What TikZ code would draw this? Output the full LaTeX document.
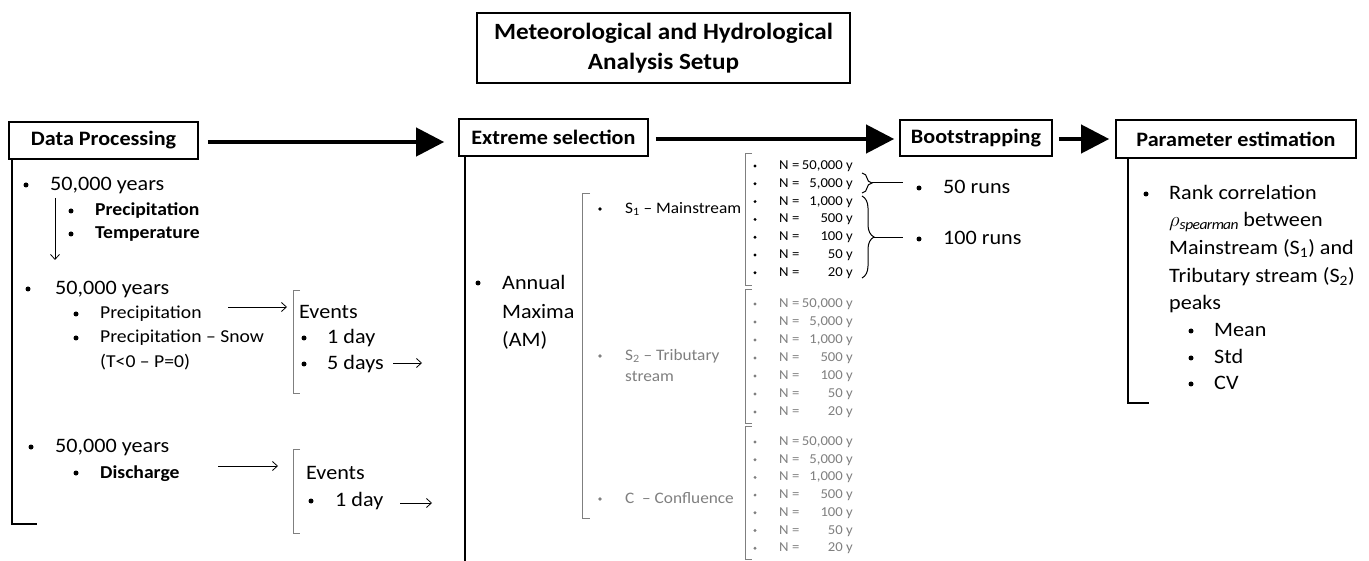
\documentclass[tikz,border=0pt]{standalone}
\usepackage{fontspec}
\setmainfont{Carlito}[FakeStretch=1.08]
\usetikzlibrary{arrows.meta,decorations.pathreplacing,calc}

\definecolor{softgray}{HTML}{7F7F7F}

\tikzset{
  hdr/.style={draw, line width=1.6pt, inner sep=0pt, font=\fontsize{20.5}{24}\selectfont\bfseries},
  big/.style={anchor=base west, inner sep=0pt, yshift=-6.7pt, font=\fontsize{20.5}{24}\selectfont},
  mid/.style={anchor=base west, inner sep=0pt, yshift=-6pt, font=\fontsize{18.2}{22}\selectfont},
  sml/.style={anchor=base west, inner sep=0pt, yshift=-5.2pt, font=\fontsize{16}{19}\selectfont},
  tiny/.style={anchor=base west, inner sep=0pt, yshift=-4.5pt, font=\fontsize{13.6}{16}\selectfont},
  dot/.style={circle, fill, inner sep=0pt, minimum size=5pt},
  smalldot/.style={circle, fill, inner sep=0pt, minimum size=3.8pt},
  fade/.style={text=softgray},
  brk/.style={draw=softgray, line width=0.9pt},
  fatarrow/.style={line width=4pt, -{Triangle[length=28pt,width=28pt]}},
  thinarrow/.style={line width=0.8pt, -{Straight Barb[length=5pt,width=9pt]}},
  sect/.style={line width=2pt},
}

\begin{document}
\begin{tikzpicture}[x=1pt, y=-1pt]
\useasboundingbox (0,0) rectangle (1369,561);

% headers
\node[hdr, font=\fontsize{23.3}{30}\selectfont\bfseries, align=center, minimum width=373pt, minimum height=70pt] (title) at (663.5,48) {Meteorological and Hydrological\\Analysis Setup};
\node[hdr, minimum width=189pt, minimum height=37pt] (dp) at (103.5,140.5) {Data Processing};
\node[hdr, minimum width=189pt, minimum height=37pt] (es) at (553.5,137.5) {Extreme selection};
\node[hdr, minimum width=152pt, minimum height=36pt] (bs) at (976,138) {Bootstrapping};
\node[hdr, minimum width=240pt, minimum height=38pt] (pe) at (1236,139) {Parameter estimation};

\draw[fatarrow] ([xshift=9pt,yshift=-1.5pt]dp.east) -- ([xshift=-14pt,yshift=-1.5pt]dp.east -| es.west);
\draw[fatarrow] ([xshift=7pt,yshift=-1.5pt]es.east) -- ([xshift=-5pt,yshift=-1.5pt]es.east -| bs.west);
\draw[fatarrow] ([xshift=6pt,yshift=-1pt]bs.east) -- ([xshift=-6pt,yshift=-1pt]bs.east -| pe.west);

\draw[sect] ([xshift=4pt]dp.south west) |- (37,524);
\draw[sect] ([xshift=7pt]es.south west) -- ++(0,410);
\draw[sect] ([xshift=13pt]pe.south west) |- (1149,403);

% data processing
\node[dot] (b1) at (26,185) {};
\node[big] (yr1) at (50,184) {50,000 years};
\node[dot] (b1a) at (71,211) {};
\node[mid] (prec1) at (95,210) {\bfseries Precipitation};
\node[dot] (b1b) at (71,234) {};
\node[mid] (temp1) at (95,233) {\bfseries Temperature};
\coordinate (d1) at (55,198);
\coordinate (d2) at (55,260);
\draw[thinarrow] (d1) -- (d2);

\node[dot] (b2) at (28,289) {};
\node[big] (yr2) at (55,288) {50,000 years};
\node[dot] (b2a) at (76,314) {};
\node[mid] (prec2) at (100,313) {Precipitation};
\node[dot] (b2b) at (76,338) {};
\node[mid] (snow2) at (100,337) {Precipitation -- Snow};
\node[mid] (tp2) at (100,362) {(T<0 -- P=0)};
\coordinate (p2s) at (228,307);
\coordinate (p2e) at (287,307);
\draw[thinarrow] (p2s) -- (p2e);
\draw[brk] (300,290) -- (293,290) -- (293,393) -- (300,393);
\node[big] (ev1) at (299,312) {Events};
\node[dot] (ev1a) at (304,338) {};
\node[big] (day1) at (327,337) {1 day};
\node[dot] (ev1b) at (304,364) {};
\node[big] (day5) at (327,363) {5 days};
\coordinate (d5s) at (393,363);
\coordinate (d5e) at (422,363);
\draw[thinarrow] (d5s) -- (d5e);

\node[dot] (b3) at (31,447) {};
\node[big] (yr3) at (55,446) {50,000 years};
\node[dot] (b3a) at (76,473) {};
\node[mid] (dis3) at (100,472) {\bfseries Discharge};
\coordinate (q3s) at (218,466);
\coordinate (q3e) at (278,466);
\draw[thinarrow] (q3s) -- (q3e);
\draw[brk] (300,449) -- (293,449) -- (293,533) -- (300,533);
\node[big] (ev2) at (306,473) {Events};
\node[dot] (ev2a) at (311,501) {};
\node[big] (day1q) at (335,500) {1 day};
\coordinate (q1s) at (400,503);
\coordinate (q1e) at (432,503);
\draw[thinarrow] (q1s) -- (q1e);

% extreme selection
\node[dot] (bam) at (478,283) {};
\node[big] (am1) at (502,283) {Annual};
\node[big] (am2) at (502,312) {Maxima};
\node[big] (am3) at (502,340) {(AM)};
\draw[brk] (590,193) -- (582,193) -- (582,518) -- (590,518);

\node[smalldot] (bs1) at (600,209) {};
\node[sml] (s1) at (625,208) {S\textsubscript{1} -- Mainstream};
\node[smalldot, softgray] (bs2) at (600,356) {};
\node[sml, fade] (s2) at (625,355) {S\textsubscript{2} -- Tributary};
\node[sml, fade] (s2b) at (625,376) {stream};
\node[smalldot, softgray] (bc) at (600,499) {};
\node[sml, fade] (cc) at (625,498) {C \ -- Confluence};

\draw[brk] (752,153) -- (745,153) -- (745,285) -- (752,285);
\draw[brk] (752,289) -- (745,289) -- (745,423) -- (752,423);
\draw[brk] (752,426) -- (745,426) -- (745,559) -- (752,559);
\foreach \v [count=\i from 0] in {50{,}000,5{,}000,1{,}000,500,100,50,20} {
  \node[smalldot, minimum size=3.2pt] (s1b\i) at (755,{166+17.8*\i}) {};
  \node[tiny] (s1n\i) at (779,{165+17.8*\i}) {N =};
  \node[tiny, anchor=base east] (s1v\i) at (853,{165+17.8*\i}) {\v\ y};
  \node[smalldot, minimum size=3.2pt, softgray] (s2b\i) at (755,{304+18*\i}) {};
  \node[tiny, fade] (s2n\i) at (779,{303+18*\i}) {N =};
  \node[tiny, fade, anchor=base east] (s2v\i) at (853,{303+18*\i}) {\v\ y};
  \node[smalldot, minimum size=3.2pt, softgray] (ccb\i) at (755,{442+17.7*\i}) {};
  \node[tiny, fade] (ccn\i) at (779,{441+17.7*\i}) {N =};
  \node[tiny, fade, anchor=base east] (ccv\i) at (853,{441+17.7*\i}) {\v\ y};
}

% bootstrapping
\draw[line width=1pt, decorate, decoration={brace, amplitude=10pt}] (862,173) -- (862,193);
\draw[line width=1pt, decorate, decoration={brace, amplitude=12pt}] (862,196) -- (862,278);
\coordinate (br1) at (872,183);
\coordinate (br1e) at (903,183);
\coordinate (br2) at (874,238);
\coordinate (br2e) at (903,238);
\draw[line width=1pt] (br1) -- (br1e);
\draw[line width=1pt] (br2) -- (br2e);
\node[dot] (r50b) at (919,188) {};
\node[big] (r50) at (943,187) {50 runs};
\node[dot] (r100b) at (919,239) {};
\node[big] (r100) at (943,238) {100 runs};

% parameter estimation
\node[dot] (pb) at (1146,194) {};
\node[big] (pe1) at (1169,193) {Rank correlation};
\node[big] (pe2) at (1169,220) {$\rho_{\mathit{spearman}}$ between};
\node[big] (pe3) at (1169,248) {Mainstream (S\textsubscript{1}) and};
\node[big] (pe4) at (1169,276) {Tributary stream (S\textsubscript{2})};
\node[big] (pe5) at (1169,303) {peaks};
\node[dot] (pm1) at (1191,331) {};
\node[big] (mean) at (1214,330) {Mean};
\node[dot] (pm2) at (1191,358) {};
\node[big] (std) at (1214,357) {Std};
\node[dot] (pm3) at (1191,384) {};
\node[big] (cv) at (1214,383) {CV};
\end{tikzpicture}
\end{document}
